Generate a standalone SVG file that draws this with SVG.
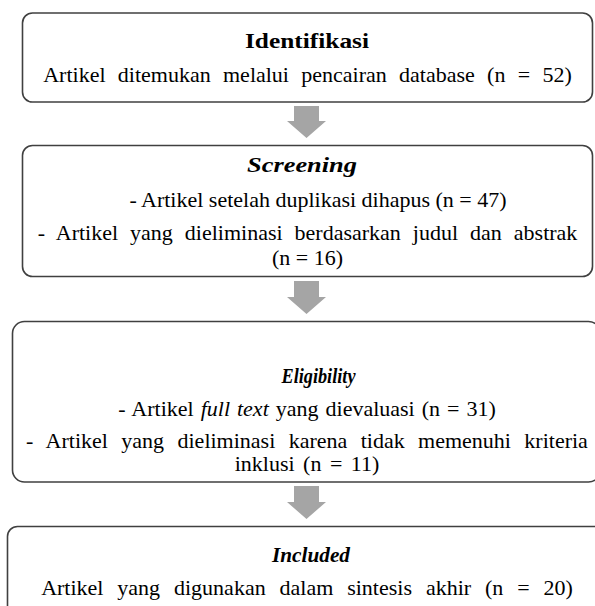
<svg xmlns="http://www.w3.org/2000/svg" width="595" height="606" viewBox="0 0 595 606">
<style>
.box{fill:#ffffff;stroke:#404040;stroke-width:1.6}
.t{font-family:"Liberation Serif","Times New Roman",serif;font-size:22px;fill:#000;text-anchor:middle}
.h{font-weight:bold}
.hi{font-weight:bold;font-style:italic}
.i{font-style:italic}
.arrow{fill:#a5a5a5}
</style>
<rect width="595" height="606" fill="#ffffff"/>
<g id="connectors">
<polygon class="arrow" points="294,106 319,106 319,121 326,121 306.5,138 287,121 294,121"/>
<polygon class="arrow" points="294,281 319,281 319,297 326,297 306.5,314 287,297 294,297"/>
<polygon class="arrow" points="294,486 319,486 319,502 326,502 306.5,519 287,502 294,502"/>
</g>
<g id="identifikasi">
<rect class="box" x="22.5" y="13" width="570" height="89" rx="10"/>
<text class="t h" x="307" y="48" textLength="124" lengthAdjust="spacingAndGlyphs">Identifikasi</text>
<text class="t" x="307.5" y="82" word-spacing="6.8">Artikel ditemukan melalui pencairan database (n = 52)</text>
</g>
<g id="screening">
<rect class="box" x="22.5" y="145.5" width="570" height="131" rx="10"/>
<text class="t hi" x="302" y="172" textLength="110" lengthAdjust="spacingAndGlyphs">Screening</text>
<text class="t" x="318" y="207" word-spacing="0">- Artikel setelah duplikasi dihapus (n = 47)</text>
<text class="t" x="307.5" y="240" word-spacing="6.5">- Artikel yang dieliminasi berdasarkan judul dan abstrak</text>
<text class="t" x="307.5" y="265">(n = 16)</text>
</g>
<g id="eligibility">
<rect class="box" x="12.5" y="321.5" width="588" height="160.5" rx="12"/>
<text class="t hi" x="318.5" y="383" textLength="74" lengthAdjust="spacingAndGlyphs">Eligibility</text>
<text class="t" x="307" y="416" word-spacing="1.5">- Artikel <tspan class="i">full text</tspan> yang dievaluasi (n = 31)</text>
<text class="t" x="307" y="448" word-spacing="7.9">- Artikel yang dieliminasi karena tidak memenuhi kriteria</text>
<text class="t" x="307" y="471" word-spacing="3">inklusi (n = 11)</text>
</g>
<g id="included">
<rect class="box" x="7.5" y="526.5" width="600" height="100" rx="10"/>
<text class="t hi" x="311" y="562" textLength="78" lengthAdjust="spacingAndGlyphs">Included</text>
<text class="t" x="307" y="595" word-spacing="8.4">Artikel yang digunakan dalam sintesis akhir (n = 20)</text>
</g>
</svg>
